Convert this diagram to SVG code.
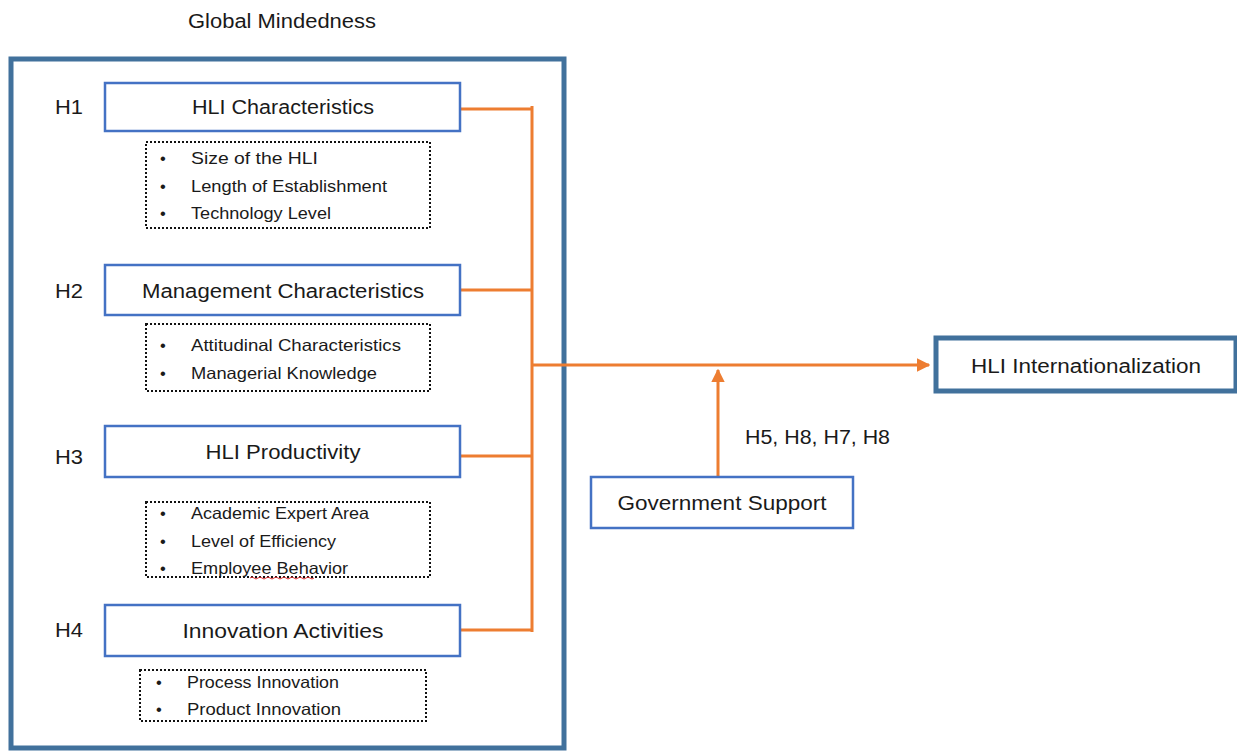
<svg xmlns="http://www.w3.org/2000/svg" width="1237" height="751" viewBox="0 0 1237 751">
<style>
text{font-family:"Liberation Sans",Arial,sans-serif;fill:#1a1a1a}
.t{font-size:20px;text-anchor:middle;dominant-baseline:central}
.h{font-size:20px;dominant-baseline:central}
.b{font-size:16.5px;dominant-baseline:central}
.node{fill:#fff;stroke:#4472C4;stroke-width:2.5}
.dark{fill:#fff;stroke:#41719C;stroke-width:5}
.dot{fill:none;stroke:#111;stroke-width:2;stroke-dasharray:2 2}
.con{fill:none;stroke:#ED7D31;stroke-width:3}
</style>
<defs>
<marker id="ah" viewBox="0 0 10 10" refX="9" refY="5" markerWidth="4.5" markerHeight="4.5" orient="auto" markerUnits="strokeWidth">
<path d="M0,0 L10,5 L0,10 z" fill="#ED7D31"/>
</marker>
</defs>
<rect width="1237" height="751" fill="#fff"/>
<g id="global">
<text class="t" x="282" y="21" textLength="188" lengthAdjust="spacingAndGlyphs">Global Mindedness</text>
<rect class="dark" x="11" y="59" width="553" height="689"/>
</g>
<g id="connectors">
<path class="con" d="M460,109 H532 M460,290 H532 M460,456 H532 M460,630 H532 M532,106 V632"/>
<path class="con" d="M532,365 H929" marker-end="url(#ah)"/>
<path class="con" d="M718,477 V370" marker-end="url(#ah)"/>
</g>
<g id="h1">
<text class="h" x="55" y="107" textLength="28" lengthAdjust="spacingAndGlyphs">H1</text>
<rect class="node" x="105" y="83" width="355" height="48"/>
<text class="t" x="283" y="107" textLength="182" lengthAdjust="spacingAndGlyphs">HLI Characteristics</text>
<rect class="dot" x="146" y="142" width="284" height="86"/>
<text class="b" x="160" y="158">•</text><text class="b" x="191" y="158" textLength="127" lengthAdjust="spacingAndGlyphs">Size of the HLI</text>
<text class="b" x="160" y="186">•</text><text class="b" x="191" y="186" textLength="196" lengthAdjust="spacingAndGlyphs">Length of Establishment</text>
<text class="b" x="160" y="213">•</text><text class="b" x="191" y="213" textLength="140" lengthAdjust="spacingAndGlyphs">Technology Level</text>
</g>
<g id="h2">
<text class="h" x="55" y="291" textLength="28" lengthAdjust="spacingAndGlyphs">H2</text>
<rect class="node" x="105" y="265" width="355" height="50"/>
<text class="t" x="283" y="291" textLength="282" lengthAdjust="spacingAndGlyphs">Management Characteristics</text>
<rect class="dot" x="146" y="324" width="284" height="67"/>
<text class="b" x="160" y="345">•</text><text class="b" x="191" y="345" textLength="210" lengthAdjust="spacingAndGlyphs">Attitudinal Characteristics</text>
<text class="b" x="160" y="373">•</text><text class="b" x="191" y="373" textLength="186" lengthAdjust="spacingAndGlyphs">Managerial Knowledge</text>
</g>
<g id="h3">
<text class="h" x="55" y="457" textLength="28" lengthAdjust="spacingAndGlyphs">H3</text>
<rect class="node" x="105" y="426" width="355" height="51"/>
<text class="t" x="283" y="452" textLength="155" lengthAdjust="spacingAndGlyphs">HLI Productivity</text>
<rect class="dot" x="146" y="502" width="284" height="75"/>
<text class="b" x="160" y="513">•</text><text class="b" x="191" y="513" textLength="178" lengthAdjust="spacingAndGlyphs">Academic Expert Area</text>
<text class="b" x="160" y="541">•</text><text class="b" x="191" y="541" textLength="145" lengthAdjust="spacingAndGlyphs">Level of Efficiency</text>
<text class="b" x="160" y="568">•</text><text class="b" x="191" y="568" textLength="157" lengthAdjust="spacingAndGlyphs">Employee Behavior</text>
<path d="M250,578 q2,-2 4,0 t4,0 t4,0 t4,0 t4,0 t4,0 t4,0 t4,0 t4,0 t4,0 t4,0 t4,0 t4,0 t4,0 t4,0 t4,0" fill="none" stroke="#e03030" stroke-width="1"/>
</g>
<g id="h4">
<text class="h" x="55" y="630" textLength="28" lengthAdjust="spacingAndGlyphs">H4</text>
<rect class="node" x="105" y="605" width="355" height="51"/>
<text class="t" x="283" y="631" textLength="201" lengthAdjust="spacingAndGlyphs">Innovation Activities</text>
<rect class="dot" x="140" y="670" width="286" height="51"/>
<text class="b" x="156" y="682">•</text><text class="b" x="187" y="682" textLength="152" lengthAdjust="spacingAndGlyphs">Process Innovation</text>
<text class="b" x="156" y="709">•</text><text class="b" x="187" y="709" textLength="154" lengthAdjust="spacingAndGlyphs">Product Innovation</text>
</g>
<g id="internationalization">
<rect class="dark" x="936" y="338" width="300" height="53"/>
<text class="t" x="1086" y="366" textLength="230" lengthAdjust="spacingAndGlyphs">HLI Internationalization</text>
</g>
<g id="government">
<rect class="node" x="591" y="477" width="262" height="51"/>
<text class="t" x="722" y="503" textLength="209" lengthAdjust="spacingAndGlyphs">Government Support</text>
<text class="h" x="745" y="437" textLength="145" lengthAdjust="spacingAndGlyphs">H5, H8, H7, H8</text>
</g>
</svg>
